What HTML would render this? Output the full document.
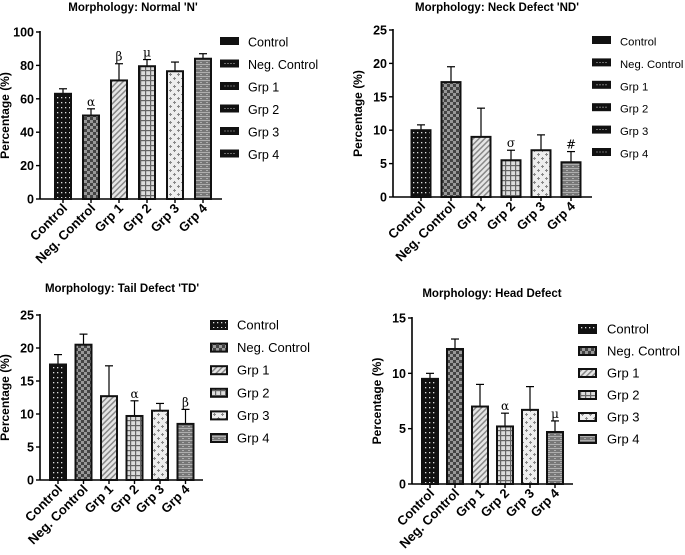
<!DOCTYPE html>
<html><head><meta charset="utf-8"><style>
html,body{margin:0;padding:0;background:#fff;}
svg{display:block;font-family:"Liberation Sans",Arial,sans-serif;}
</style></head><body>
<svg id="fig" width="685" height="555" viewBox="0 0 685 555" xmlns="http://www.w3.org/2000/svg">
<defs>
<pattern id="p0" width="4" height="5" patternUnits="userSpaceOnUse"><rect width="4" height="5" fill="#111"/><rect x="1" y="2" width="1.3" height="1.3" fill="#ddd"/></pattern>
<pattern id="p1" width="6" height="6" patternUnits="userSpaceOnUse"><rect width="6" height="6" fill="#444"/><rect width="3" height="3" fill="#999"/><rect x="3" y="3" width="3" height="3" fill="#999"/></pattern>
<pattern id="p2" width="4" height="4" patternUnits="userSpaceOnUse" patternTransform="rotate(45)"><rect width="4" height="4" fill="#e6e6e6"/><rect width="1.5" height="4" fill="#888"/></pattern>
<pattern id="p3" width="5" height="5" patternUnits="userSpaceOnUse"><rect width="5" height="5" fill="#ddd"/><rect width="1.2" height="5" fill="#666"/><rect width="5" height="1.2" fill="#666"/></pattern>
<pattern id="p4" width="8" height="8" patternUnits="userSpaceOnUse"><rect width="8" height="8" fill="#eee"/><path d="M2 1h1v1h1v1h-1v1h-1v-1h-1v-1h1z" fill="#888"/><path d="M6 5h1v1h1v1h-1v1h-1v-1h-1v-1h1z" fill="#888"/></pattern>
<pattern id="p5" width="6" height="4" patternUnits="userSpaceOnUse"><rect width="6" height="4" fill="#777"/><rect y="0" width="6" height="0.8" fill="#bbb"/><rect x="2" y="2" width="2" height="0.8" fill="#bbb"/></pattern>
</defs>
</svg>
<script>
const categories=["Control","Neg. Control","Grp 1","Grp 2","Grp 3","Grp 4"];
const normalValues=[63,50,71,79.5,76.5,84];
const normalErrors=[3,4,10,4,5.5,3];
const normalNotes=["","α","β","μ","",""];
const normalTicks=[0,20,40,60,80,100];
const neckValues=[10,17.2,9,5.5,7,5.2];
const neckErrors=[0.8,2.3,4.3,1.5,2.3,1.6];
const neckNotes=["","","","σ","","#"];
const neckTicks=[0,5,10,15,20,25];
const tailValues=[17.5,20.5,12.7,9.7,10.5,8.5];
const tailErrors=[1.5,1.6,4.6,2.3,1.1,2.2];
const tailNotes=["","","","α","","β"];
const tailTicks=[0,5,10,15,20,25];
const headValues=[9.5,12.2,7,5.2,6.7,4.7];
const headErrors=[0.5,0.9,2,1.2,2.1,1];
const headNotes=["","","","α","","μ"];
const headTicks=[0,5,10,15];

const svg=document.getElementById('fig');
const NS="http://www.w3.org/2000/svg";
function mk(tag,attrs,parent,text){const e=document.createElementNS(NS,tag);for(const k in attrs)e.setAttribute(k,attrs[k]);if(text!==undefined)e.textContent=text;(parent||svg).appendChild(e);return e;}

function panel(cfg,values,errors,notes,ticks){
  const g=mk('g',{});
  
  
  const max=ticks[ticks.length-1];
  const y=v=>cfg.y0-(v/max)*(cfg.y0-cfg.yTop);
  const x=i=>cfg.x0+cfg.first+i*cfg.step;
  const t=mk('text',{x:cfg.titleX,y:cfg.titleY,'text-anchor':'middle','font-size':'11.5','font-weight':'bold'},g,cfg.title);
  
  
  const yl=mk('text',{x:0,y:0,transform:`translate(${cfg.x0-31},${(cfg.y0+cfg.yTop)/2}) rotate(-90)`,'text-anchor':'middle','font-size':'12','font-weight':'bold'},g,'Percentage (%)');
  
  
  mk('line',{x1:cfg.x0,y1:cfg.yTop-1,x2:cfg.x0,y2:cfg.y0,stroke:'#000','stroke-width':1.6},g);
  mk('line',{x1:cfg.x0,y1:cfg.y0,x2:cfg.xEnd,y2:cfg.y0,stroke:'#000','stroke-width':1.6},g);
  ticks.forEach(v=>{
    mk('line',{x1:cfg.x0-4,y1:y(v),x2:cfg.x0,y2:y(v),stroke:'#000','stroke-width':1.4},g);
    const tl=mk('text',{x:cfg.x0-6,y:y(v)+4.5,'text-anchor':'end','font-size':'12.5','font-weight':'bold'},g,String(v));
    
    
  });
  categories.forEach((c,i)=>{
    const cx=x(i),w=cfg.bw,top=y(values[i]),et=y(values[i]+errors[i]);
    mk('line',{x1:cx,y1:et,x2:cx,y2:top,stroke:'#000','stroke-width':1.2},g);
    mk('line',{x1:cx-4,y1:et,x2:cx+4,y2:et,stroke:'#000','stroke-width':1.2},g);
    const b=mk('rect',{x:cx-w/2,y:top,width:w,height:cfg.y0-top,fill:`url(#p${i})`,stroke:'#111','stroke-width':2},g);
    
    
    mk('line',{x1:cx,y1:cfg.y0,x2:cx,y2:cfg.y0+4,stroke:'#000','stroke-width':1.4},g);
    const xl=mk('text',{x:0,y:0,transform:`translate(${cx+5},${cfg.y0+10}) rotate(-45)`,'text-anchor':'end','font-size':'13','font-weight':'bold'},g,c);
    
    
    if(notes[i]){
      const n=mk('text',{x:cx,y:et-3,'text-anchor':'middle','font-size':'12','font-family':'"DejaVu Serif",serif'},g,notes[i]);
      
      
    }
    const ly=cfg.legY+i*cfg.legStep;
    const lb=mk('rect',{x:cfg.legX,y:ly-4,width:cfg.legW,height:cfg.legH,fill:cfg.legPat?`url(#p${i})`:'#111',stroke:'#111','stroke-width':2},g);
    
    
    if(!cfg.legPat&&i>0) mk('line',{x1:cfg.legX+3,y1:ly-4+cfg.legH/2,x2:cfg.legX+cfg.legW-3,y2:ly-4+cfg.legH/2,stroke:'#888','stroke-width':0.8,'stroke-dasharray':'2 1'},g);
    const lt=mk('text',{x:cfg.legTextX,y:ly+4.5,'font-size':cfg.legFont},g,c);
    
    
  });
}
panel({name:'chart-normal',title:"Morphology: Normal 'N'",titleX:133,titleY:11,x0:40,yTop:32,y0:199,xEnd:222,first:23,step:28,bw:16,legX:221,legY:42,legStep:22.5,legW:17,legH:6,legPat:false,legTextX:248,legFont:'12.5'},normalValues,normalErrors,normalNotes,normalTicks);
panel({name:'chart-neck',title:"Morphology: Neck Defect 'ND'",titleX:497,titleY:11,x0:393,yTop:30,y0:197,xEnd:592,first:28,step:30,bw:19,legX:593,legY:41,legStep:22.4,legW:17,legH:6,legPat:false,legTextX:620,legFont:'11.3'},neckValues,neckErrors,neckNotes,neckTicks);
panel({name:'chart-tail',title:"Morphology: Tail Defect 'TD'",titleX:122,titleY:292,x0:40,yTop:315,y0:480,xEnd:203,first:18,step:25.5,bw:16,legX:211,legY:325,legStep:22.6,legW:16,legH:8,legPat:true,legTextX:237,legFont:'13'},tailValues,tailErrors,tailNotes,tailTicks);
panel({name:'chart-head',title:"Morphology: Head Defect",titleX:492,titleY:297,x0:412,yTop:318,y0:484,xEnd:573,first:18,step:25,bw:16,legX:579,legY:329,legStep:22,legW:17,legH:8,legPat:true,legTextX:607,legFont:'13'},headValues,headErrors,headNotes,headTicks);
</script>
</body></html>
